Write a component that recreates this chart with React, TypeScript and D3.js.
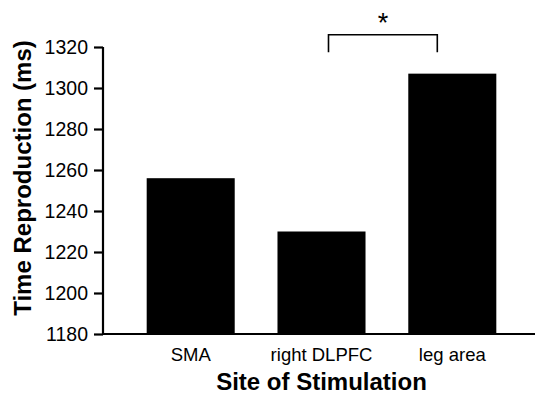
import React, { useEffect, useRef } from 'react';
import * as d3 from 'd3';

const sites = ['SMA', 'right DLPFC', 'leg area'];
const times = [1256, 1230, 1307];
const yTicks = [1180, 1200, 1220, 1240, 1260, 1280, 1300, 1320];
const sigPair = ['right DLPFC', 'leg area'];
const sigLevel = [1317.5, 1326];

const FONT = '"Liberation Sans", Arial, Helvetica, sans-serif';

const App: React.FC = () => {
  const svgRef = useRef<SVGSVGElement | null>(null);

  useEffect(() => {
    const width = 536;
    const height = 395;
    const svg = d3.select(svgRef.current);
    svg.selectAll('*').remove();
    svg.attr('width', width).attr('height', height);

    const left = 103;
    const x = d3.scaleBand<string>()
      .domain(sites)
      .range([left, 540])
      .paddingInner(0.327)
      .paddingOuter(0.334);
    const y = d3.scaleLinear().domain([1180, 1320]).range([334, 47]);

    // bars
    svg.selectAll('rect.bar')
      .data(sites)
      .join('rect')
      .attr('class', 'bar')
      .attr('x', d => x(d)!)
      .attr('y', (_, i) => y(times[i]))
      .attr('width', x.bandwidth())
      .attr('height', (_, i) => y(1180) - y(times[i]))
      .attr('fill', '#000');

    // y axis
    const yAxis = svg.append('g')
      .attr('transform', `translate(${left},0)`)
      .call(d3.axisLeft(y).tickValues(yTicks).tickSize(9).tickPadding(6).tickFormat(d3.format('d')));
    yAxis.select('.domain').attr('stroke', '#000').attr('stroke-width', 2.2).attr('d', `M0,${y(1320)}V${y(1180)}`);
    yAxis.selectAll('.tick line').attr('stroke', '#000').attr('stroke-width', 2.2);
    yAxis.selectAll('.tick text')
      .attr('fill', '#000')
      .style('font-family', FONT)
      .style('font-size', '19.5px');

    // x axis line
    svg.append('line')
      .attr('x1', left)
      .attr('x2', 535)
      .attr('y1', y(1180))
      .attr('y2', y(1180))
      .attr('stroke', '#000')
      .attr('stroke-width', 2.2);

    // category labels
    svg.selectAll('text.cat')
      .data(sites)
      .join('text')
      .attr('class', 'cat')
      .attr('x', d => x(d)! + x.bandwidth() / 2)
      .attr('y', 361)
      .attr('text-anchor', 'middle')
      .style('font-family', FONT)
      .style('font-size', '18.5px')
      .text(d => d);

    // axis titles
    svg.append('text')
      .attr('x', x('right DLPFC')! + x.bandwidth() / 2)
      .attr('y', 390)
      .attr('text-anchor', 'middle')
      .style('font-family', FONT)
      .style('font-size', '24px')
      .style('font-weight', 'bold')
      .text('Site of Stimulation');

    svg.append('text')
      .attr('transform', `translate(31,178) rotate(-90)`)
      .attr('text-anchor', 'middle')
      .style('font-family', FONT)
      .style('font-size', '24px')
      .style('font-weight', 'bold')
      .text('Time Reproduction (ms)');

    // significance bracket
    const bx1 = x(sigPair[0])! + x.bandwidth() / 2 + 7;
    const bx2 = x(sigPair[1])! + x.bandwidth() / 2 - 15;
    svg.append('path')
      .attr('d', `M${bx1},${y(sigLevel[0])}V${y(sigLevel[1])}H${bx2}V${y(sigLevel[0])}`)
      .attr('fill', 'none')
      .attr('stroke', '#000')
      .attr('stroke-width', 1.6);

    svg.append('text')
      .attr('x', (bx1 + bx2) / 2)
      .attr('y', 32)
      .attr('text-anchor', 'middle')
      .style('font-family', FONT)
      .style('font-size', '27px')
      .text('*');
  }, []);

  return (
    <div style={{ position: 'absolute', left: 0, top: 0, background: '#fff' }}>
      <svg ref={svgRef} style={{ display: 'block' }}></svg>
    </div>
  );
};

export default App;
